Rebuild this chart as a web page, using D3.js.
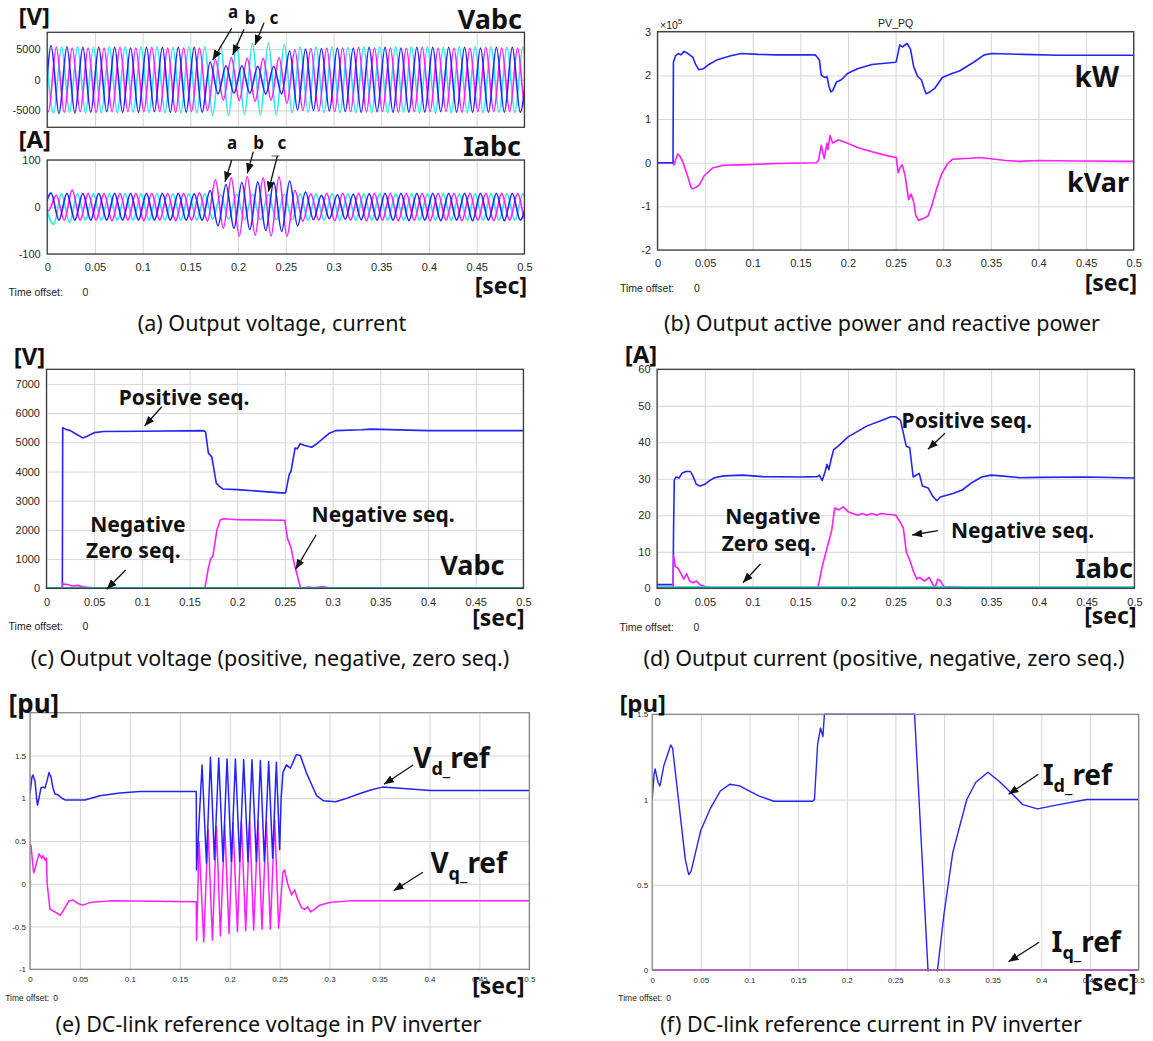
<!DOCTYPE html>
<html>
<head>
<meta charset="utf-8">
<script src="https://cdn.jsdelivr.net/npm/d3@7"></script>
<style>
  body { margin: 0; background: #fff; }
  .big { font-family: "Noto Sans", sans-serif; font-weight: bold; fill: #111; }
  .caption { font-family: "Noto Sans", sans-serif; font-size: 21.5px; fill: #111; }
  .small { font-family: "Liberation Sans", Arial, sans-serif; fill: #222; }
</style>
</head>
<body>
<div id="chart"></div>
<script>
// ---------- data ----------
var xTicks = [0, 0.05, 0.1, 0.15, 0.2, 0.25, 0.3, 0.35, 0.4, 0.45, 0.5];

// (a) three phase waveforms, stored as successive half-cycle extremes (60 Hz)
var halfCycle = 1 / 120;
var phaseStart = [-0.01267, -0.0071, -0.0016];   // time of first stored extreme, phase a, b, c
var vaPeaks = [5300, -5300, 5600, -5500, 5400, -5400, 5300, -5300, 5300, -5200,
  5300, -5300, 5200, -5300, 5300, -5200, 5300, -5300, 5300, -5300,
  5300, -5300, 2900, -2300, 2300, -2200, 2300, -2200, 2200, -2300,
  2200, -2300, 4700, -4900, 5000, -5000, 5100, -5100, 5200, -5200,
  5200, -5300, 5300, -5200, 5300, -5300, 5200, -5300, 5300, -5300,
  5300, -5200, 5300, -5300, 5300, -5300, 5200, -5300, 5300, -5300,
  5300, -5300, 5300];
var vbPeaks = [5200, -5200, 5300, -5300, 5200, -5200, 5200, -5300, 5200, -5200,
  5300, -5200, 5200, -5200, 5300, -5200, 5200, -5300, 5200, -5200,
  5200, -5000, 3300, -3300, 3600, -3400, 3500, -3500, 3500, -3300,
  3600, -3800, 4900, -5000, 5100, -5100, 5200, -5200, 5200, -5200,
  5300, -5200, 5200, -5200, 5200, -5300, 5200, -5200, 5300, -5200,
  5200, -5200, 5200, -5300, 5200, -5200, 5300, -5200, 5200, -5200,
  5200, -5200, 5200];
var vcPeaks = [5400, -5400, 5400, -5300, 5400, -5400, 5300, -5400, 5400, -5400,
  5400, -5300, 5400, -5400, 5400, -5400, 5300, -5400, 5400, -5400,
  5400, -5800, 5500, -5800, 5900, -5700, 5900, -5700, 6000, -5700,
  5800, -5400, 5400, -5300, 5400, -5400, 5400, -5400, 5300, -5400,
  5400, -5400, 5400, -5400, 5400, -5300, 5400, -5400, 5400, -5400,
  5300, -5400, 5400, -5400, 5400, -5400, 5400, -5300, 5400, -5400,
  5400, -5400, 5400];
var iaPeaks = [0, -2, 30, -28, 29, -28, 29, -28, 29, -28,
  29, -28, 29, -28, 29, -28, 29, -28, 29, -28,
  28, -28, 35, -40, 48, -45, 52, -48, 53, -50,
  53, -52, 55, -40, 32, -27, 25, -25, 26, -26,
  27, -27, 28, -28, 29, -28, 29, -29, 29, -28,
  29, -29, 29, -28, 29, -29, 29, -28, 29, -29,
  29, -28, 29];
var ibPeaks = [2, -8, 25, -28, 36, -28, 29, -28, 29, -29,
  29, -28, 29, -29, 29, -28, 29, -29, 29, -28,
  30, -30, 58, -45, 62, -62, 65, -60, 62, -62,
  64, -62, 35, -30, 28, -28, 29, -29, 29, -28,
  29, -29, 29, -28, 29, -29, 29, -28, 29, -29,
  29, -28, 29, -29, 29, -28, 29, -29, 29, -28,
  29, -29, 29];
var icPeaks = [2, -37, 28, -33, 28, -28, 28, -28, 28, -28,
  28, -28, 28, -28, 28, -28, 28, -28, 28, -28,
  28, -26, 26, -26, 27, -27, 27, -27, 27, -27,
  27, -27, 28, -28, 28, -28, 28, -28, 28, -28,
  28, -28, 28, -28, 28, -28, 28, -28, 28, -28,
  28, -28, 28, -28, 28, -28, 28, -28, 28, -28,
  28, -28, 28];

// (b) active / reactive power, x10^5
var pTime = [0, 0.0163, 0.0167, 0.019, 0.022, 0.0245, 0.028, 0.032, 0.037, 0.040, 0.0433, 0.048, 0.054, 0.062,
  0.077, 0.088, 0.106, 0.125, 0.1656, 0.170, 0.172, 0.176, 0.178, 0.180, 0.182, 0.184, 0.188, 0.193, 0.200,
  0.210, 0.225, 0.250, 0.2507, 0.2544, 0.257, 0.262, 0.2656, 0.269, 0.273, 0.277, 0.280, 0.282, 0.286, 0.291,
  0.299, 0.310, 0.317, 0.332, 0.343, 0.351, 0.384, 0.421, 0.5];
var pValue = [0, 0, 2.30, 2.45, 2.50, 2.47, 2.55, 2.50, 2.42, 2.25, 2.13, 2.15, 2.25, 2.35,
  2.45, 2.50, 2.48, 2.47, 2.47, 2.35, 2.00, 1.95, 1.97, 1.75, 1.62, 1.65, 1.85, 1.90, 2.05,
  2.15, 2.25, 2.30, 2.32, 2.70, 2.65, 2.73, 2.60, 2.20, 1.98, 1.90, 1.70, 1.58, 1.62, 1.70,
  1.95, 2.05, 2.10, 2.30, 2.47, 2.50, 2.48, 2.46, 2.46];
var qTime = [0, 0.016, 0.0174, 0.021, 0.0235, 0.027, 0.0315, 0.035, 0.0367, 0.040, 0.044, 0.049, 0.058, 0.069,
  0.088, 0.125, 0.167, 0.169, 0.172, 0.175, 0.178, 0.179, 0.181, 0.184, 0.190, 0.199, 0.210, 0.225, 0.243,
  0.2507, 0.2526, 0.2550, 0.257, 0.260, 0.2637, 0.2663, 0.269, 0.2711, 0.274, 0.280, 0.284, 0.2878, 0.293,
  0.2985, 0.3044, 0.310, 0.328, 0.338, 0.366, 0.380, 0.400, 0.440, 0.5];
var qValue = [0, 0, -0.05, 0.20, 0.15, 0.0, -0.30, -0.55, -0.60, -0.57, -0.50, -0.30, -0.12, -0.06,
  -0.05, -0.02, 0, 0.05, 0.40, 0.10, 0.45, 0.30, 0.62, 0.45, 0.52, 0.45, 0.35, 0.25, 0.15,
  0.12, -0.23, -0.10, -0.05, -0.30, -0.85, -0.72, -0.90, -1.20, -1.32, -1.27, -1.22, -1.00, -0.60,
  -0.25, -0.03, 0.08, 0.10, 0.12, 0.05, 0.03, 0.05, 0.04, 0.03];

// (c) sequence voltages [V]
var posVTime = [0, 0.0166, 0.0170, 0.020, 0.025, 0.030, 0.038, 0.042, 0.050, 0.060, 0.100, 0.165, 0.1668,
  0.1697, 0.1733, 0.178, 0.181, 0.185, 0.200, 0.225, 0.2498, 0.2509, 0.2545, 0.2563, 0.2606, 0.263, 0.266,
  0.270, 0.278, 0.2834, 0.2888, 0.296, 0.3032, 0.330, 0.340, 0.400, 0.5];
var posVValue = [0, 0, 5500, 5450, 5400, 5300, 5150, 5200, 5330, 5370, 5380, 5400, 5350,
  4630, 4500, 3600, 3500, 3400, 3380, 3320, 3260, 3300, 3900, 4000, 4800, 4780, 4950,
  4900, 4830, 4950, 5100, 5300, 5400, 5430, 5450, 5400, 5400];
var negVTime = [0, 0.0166, 0.0170, 0.022, 0.027, 0.033, 0.038, 0.045, 0.050, 0.166, 0.1697, 0.172, 0.1744,
  0.1787, 0.1823, 0.186, 0.200, 0.2498, 0.2527, 0.2563, 0.260, 0.2625, 0.266, 0.268, 0.275, 0.280, 0.290,
  0.295, 0.300, 0.5];
var negVValue = [0, 0, 150, 130, 80, 100, 50, 30, 0, 0, 700, 1000, 1100,
  2000, 2350, 2380, 2350, 2330, 1700, 1400, 800, 500, 50, 0, 40, 20, 60,
  20, 0, 0];
var zeroVTime = [0, 0.5];
var zeroVValue = [15, 15];

// (d) sequence currents [A]
var posITime = [0, 0.0168, 0.0172, 0.018, 0.020, 0.023, 0.026, 0.030, 0.035, 0.038, 0.041, 0.045, 0.050,
  0.055, 0.060, 0.070, 0.090, 0.110, 0.150, 0.168, 0.170, 0.173, 0.176, 0.178, 0.180, 0.182, 0.185, 0.190,
  0.200, 0.210, 0.220, 0.235, 0.245, 0.2498, 0.255, 0.2609, 0.2646, 0.2683, 0.2746, 0.278, 0.2838, 0.2893,
  0.293, 0.2967, 0.310, 0.320, 0.330, 0.340, 0.350, 0.360, 0.380, 0.400, 0.450, 0.5];
var posIValue = [1, 1, 15, 29.7, 30.5, 30.2, 31.5, 32, 32, 30.5, 28.5, 28, 28.5,
  29.5, 30.3, 30.8, 31, 30.6, 30.5, 30.6, 31, 29.5, 32, 34, 32.5, 35, 38, 39,
  41.5, 43, 44.5, 46, 47, 47, 46, 39, 38.5, 30.5, 31.5, 28, 27.5, 25,
  24, 25, 26, 27, 29, 30.5, 31, 30.8, 30.3, 30.4, 30.5, 30.2];
var negITime = [0, 0.0168, 0.0172, 0.019, 0.022, 0.025, 0.028, 0.031, 0.034, 0.038, 0.041, 0.045, 0.050,
  0.060, 0.168, 0.170, 0.173, 0.177, 0.181, 0.183, 0.186, 0.190, 0.195, 0.200, 0.205, 0.210, 0.215, 0.220,
  0.225, 0.230, 0.235, 0.240, 0.245, 0.250, 0.255, 0.258, 0.261, 0.265, 0.268, 0.272, 0.275, 0.280, 0.285,
  0.288, 0.291, 0.294, 0.297, 0.300, 0.320, 0.350, 0.5];
var negIValue = [0, 0, 9, 6, 5.5, 4, 2.5, 4, 2, 1.5, 2, 1, 0.5,
  0, 0, 2, 6, 10, 14, 16, 22, 21.5, 22.3, 21, 20.5, 20, 20.5, 20,
  20.5, 20, 20.5, 20.3, 20.2, 20, 18, 16.5, 10, 7.5, 5, 2.5, 3, 2, 3,
  1.5, 0, 2.5, 2, 0.5, 0.2, 0, 0];
var zeroITime = [0, 0.5];
var zeroIValue = [0.3, 0.3];

// (e) reference voltages [pu]
var vdTime = [0, 0.002, 0.003, 0.005, 0.0069, 0.0075, 0.009, 0.011, 0.013, 0.015, 0.017, 0.019, 0.021,
  0.023, 0.025, 0.028, 0.032, 0.035, 0.045, 0.055, 0.070, 0.090, 0.110, 0.1665,
  0.1668, 0.1723, 0.1767, 0.1807, 0.1847, 0.189, 0.1933, 0.1973, 0.2017, 0.2057, 0.210, 0.214, 0.2183,
  0.2223, 0.2267, 0.2307, 0.2347, 0.239, 0.243, 0.2467, 0.2500, 0.2515, 0.2533, 0.2567, 0.2607, 0.2667,
  0.2707, 0.2767, 0.282, 0.287, 0.294, 0.306, 0.315, 0.329, 0.342, 0.353, 0.367, 0.401, 0.5];
var vdValue = [1.05, 1.25, 1.27, 1.20, 0.97, 0.92, 1.00, 1.12, 1.13, 1.12, 1.20, 1.30, 1.25,
  1.12, 1.05, 1.04, 1.00, 0.98, 0.98, 0.98, 1.03, 1.06, 1.08, 1.08,
  0.16, 1.39, 0.24, 1.48, 0.28, 1.47, 0.26, 1.46, 0.26, 1.46, 0.26, 1.45, 0.26,
  1.45, 0.26, 1.44, 0.26, 1.43, 0.30, 1.42, 0.40, 1.00, 1.30, 1.39, 1.35, 1.51,
  1.50, 1.30, 1.16, 1.03, 0.97, 0.96, 0.99, 1.05, 1.10, 1.13, 1.12, 1.09, 1.09];
var vqTime = [0, 0.001, 0.0034, 0.004, 0.009, 0.012, 0.013, 0.0155, 0.0165, 0.0172, 0.020, 0.025, 0.0303,
  0.034, 0.039, 0.043, 0.048, 0.053, 0.060, 0.080, 0.1665,
  0.1668, 0.1693, 0.174, 0.1783, 0.1827, 0.1867, 0.1907, 0.195, 0.1993, 0.2033, 0.2077, 0.2117, 0.216,
  0.220, 0.224, 0.2283, 0.2323, 0.2367, 0.2407, 0.245, 0.249, 0.2533, 0.255, 0.258, 0.262, 0.265, 0.268,
  0.272, 0.275, 0.278, 0.281, 0.285, 0.290, 0.300, 0.320, 0.5];
var vqValue = [0.46, 0.45, 0.15, 0.13, 0.35, 0.30, 0.33, 0.27, 0.30, 0.0, -0.30, -0.33, -0.37,
  -0.30, -0.20, -0.19, -0.23, -0.25, -0.22, -0.20, -0.21,
  -0.66, 0.49, -0.68, 0.64, -0.66, 0.67, -0.61, 0.69, -0.58, 0.72, -0.56, 0.73, -0.55,
  0.73, -0.54, 0.73, -0.53, 0.73, -0.53, 0.75, -0.52, 0.14, 0.16, 0.0, -0.13, -0.07, -0.18,
  -0.28, -0.30, -0.27, -0.33, -0.30, -0.25, -0.22, -0.20, -0.20];

// (f) reference currents [pu]
var idTime = [0, 0.002, 0.003, 0.006, 0.008, 0.012, 0.015, 0.019, 0.021, 0.025, 0.030, 0.034, 0.0375,
  0.040, 0.045, 0.050, 0.060, 0.070, 0.080, 0.090, 0.100, 0.110, 0.125, 0.165, 0.1668, 0.170, 0.173,
  0.1755, 0.177, 0.2697, 0.2835, 0.2875, 0.2933, 0.300, 0.309, 0.3234, 0.3325, 0.345, 0.356, 0.367,
  0.381, 0.396, 0.418, 0.4467, 0.5];
var idValue = [1.0, 1.15, 1.18, 1.10, 1.08, 1.20, 1.25, 1.32, 1.30, 1.10, 0.85, 0.65, 0.56,
  0.58, 0.70, 0.82, 0.95, 1.05, 1.09, 1.08, 1.05, 1.02, 0.99, 0.99, 1.0, 1.32, 1.42,
  1.37, 1.5, 1.5, 0, -0.3, 0, 0.33, 0.69, 1.0, 1.1, 1.16, 1.11, 1.05,
  0.97, 0.945, 0.97, 1.0, 1.0];
var iqTime = [0, 0.5];
var iqValue = [0, 0];

// ---------- drawing ----------
var blue = '#2323ff', magenta = '#ff1cff', cyanBright = '#22e6f0', cyanDark = '#1bc4c4';

var svg = d3.select('#chart').append('svg')
  .attr('width', 1153)
  .attr('height', 1041);

var defs = svg.append('defs');
defs.append('marker')
  .attr('id', 'arrowhead')
  .attr('viewBox', '0 0 10 8')
  .attr('refX', 10).attr('refY', 4)
  .attr('markerWidth', 10).attr('markerHeight', 8)
  .attr('markerUnits', 'userSpaceOnUse')
  .attr('orient', 'auto')
  .append('path').attr('d', 'M0,0L10,4L0,8Z').attr('fill', '#111');

function makePanel(id, box, yDomain, yTicks, opts) {
  var x = d3.scaleLinear().domain([0, 0.5]).range([box.x0, box.x1]);
  var y = d3.scaleLinear().domain(yDomain).range([box.y1, box.y0]);
  var w = box.x1 - box.x0, h = box.y1 - box.y0;
  var fs = opts.small ? 8 : 11;
  var g = svg.append('g').attr('class', 'panel-' + id);

  var xa = g.append('g')
    .attr('transform', 'translate(0,' + box.y1 + ')')
    .call(d3.axisBottom(x).tickValues(xTicks).tickSize(-h).tickPadding(opts.xPad)
      .tickFormat(opts.noXLabels ? function() { return ''; } : String));
  var ya = g.append('g')
    .attr('transform', 'translate(' + box.x0 + ',0)')
    .call(d3.axisLeft(y).tickValues(yTicks).tickSize(-w).tickPadding(opts.yPad).tickFormat(String));

  [xa, ya].forEach(function(a) {
    a.select('.domain').remove();
    a.selectAll('line').attr('stroke', '#d6d6d6').attr('stroke-width', 1);
    a.selectAll('text').attr('font-family', '"Liberation Sans", Arial, sans-serif')
      .attr('font-size', fs).attr('fill', '#2a2a2a');
  });

  defs.append('clipPath').attr('id', 'clip-' + id)
    .append('rect').attr('x', box.x0).attr('y', box.y0 - 1.5).attr('width', w).attr('height', h + 3);

  var lines = g.append('g').attr('clip-path', 'url(#clip-' + id + ')');

  g.append('rect')
    .attr('x', box.x0).attr('y', box.y0).attr('width', w).attr('height', h)
    .attr('fill', 'none').attr('stroke', opts.border || '#3c3c3c').attr('stroke-width', 1.3);

  return { x: x, y: y, lines: lines, g: g };
}

function drawSeries(p, times, values, color, width, curve) {
  var line = d3.line()
    .x(function(d, i) { return p.x(times[i]); })
    .y(function(d) { return p.y(d); })
    .curve(curve || d3.curveLinear);
  p.lines.append('path')
    .datum(values)
    .attr('fill', 'none')
    .attr('stroke', color)
    .attr('stroke-width', width)
    .attr('stroke-linejoin', 'round')
    .attr('d', line);
}

function peakTimes(start, n) {
  return d3.range(n).map(function(k) { return start + k * halfCycle; });
}

function bigText(x, y, txt, size, anchor) {
  return svg.append('text').attr('class', 'big')
    .attr('x', x).attr('y', y)
    .attr('font-size', size)
    .attr('text-anchor', anchor || 'start')
    .text(txt);
}

function arrow(x1, y1, x2, y2) {
  svg.append('line')
    .attr('x1', x1).attr('y1', y1).attr('x2', x2).attr('y2', y2)
    .attr('stroke', '#111').attr('stroke-width', 1.3)
    .attr('marker-end', 'url(#arrowhead)');
}

function timeOffset(x, y, size, gap) {
  svg.append('text').attr('class', 'small').attr('x', x).attr('y', y).attr('font-size', size).text('Time offset:');
  svg.append('text').attr('class', 'small').attr('x', x + gap).attr('y', y).attr('font-size', size).text('0');
}

function caption(x, y, txt) {
  svg.append('text').attr('class', 'caption').attr('x', x).attr('y', y)
    .attr('text-anchor', 'middle').text(txt);
}

// ---- (a) ----
var a1 = makePanel('a1', { x0: 47.2, x1: 524.4, y0: 32.3, y1: 127.3 }, [-7750, 7750], [-5000, 0, 5000],
  { xPad: 9, yPad: 6.5, noXLabels: true });
var a2 = makePanel('a2', { x0: 47.2, x1: 524.4, y0: 160, y1: 254 }, [-100, 100], [-100, 0, 100],
  { xPad: 9, yPad: 6.5 });

var n = vaPeaks.length;
drawSeries(a1, peakTimes(phaseStart[2], n), vcPeaks, cyanBright, 1.6, d3.curveMonotoneX);
drawSeries(a1, peakTimes(phaseStart[1], n), vbPeaks, magenta, 1.6, d3.curveMonotoneX);
drawSeries(a1, peakTimes(phaseStart[0], n), vaPeaks, blue, 1.6, d3.curveMonotoneX);
drawSeries(a2, peakTimes(phaseStart[2], n), icPeaks, cyanBright, 1.6, d3.curveMonotoneX);
drawSeries(a2, peakTimes(phaseStart[1], n), ibPeaks, magenta, 1.6, d3.curveMonotoneX);
drawSeries(a2, peakTimes(phaseStart[0], n), iaPeaks, blue, 1.6, d3.curveMonotoneX);

bigText(18.5, 24.5, '[V]', 24);
bigText(522, 28.5, 'Vabc', 27, 'end');
bigText(18.5, 148, '[A]', 24);
bigText(521, 156, 'Iabc', 27, 'end');
bigText(527, 294, '[sec]', 23, 'end');
bigText(233, 18.3, 'a', 17, 'middle');
bigText(250, 24, 'b', 17, 'middle');
bigText(274, 24, 'c', 17, 'middle');
arrow(231.7, 28.3, 212.7, 60);
arrow(244, 29.3, 232.7, 55);
arrow(264, 22.7, 255, 45);
bigText(232, 149.3, 'a', 17, 'middle');
bigText(258.5, 149.3, 'b', 17, 'middle');
bigText(282, 149.3, 'c', 17, 'middle');
arrow(231.7, 160, 225, 181.7);
arrow(253.3, 151.7, 247.3, 173.3);
svg.append('line').attr('x1', 271.5).attr('y1', 156).attr('x2', 279.5).attr('y2', 156)
  .attr('stroke', '#555').attr('stroke-width', 1);
arrow(277.3, 156, 268.3, 191.7);
timeOffset(8.6, 295.5, 10.5, 74);
caption(272, 331, '(a) Output voltage, current');

// ---- (b) ----
var b = makePanel('b', { x0: 657.5, x1: 1133.7, y0: 31.7, y1: 250 }, [-2, 3], [-2, -1, 0, 1, 2, 3],
  { xPad: 9, yPad: 6.5 });
drawSeries(b, qTime, qValue, magenta, 1.6);
drawSeries(b, pTime, pValue, blue, 1.6);
svg.append('text').attr('class', 'small').attr('x', 895.6).attr('y', 26.5)
  .attr('font-size', 10.5).attr('text-anchor', 'middle').attr('fill', '#333').text('PV_PQ');
var expo = svg.append('text').attr('class', 'small').attr('x', 660).attr('y', 28.5)
  .attr('font-size', 10.5).attr('fill', '#444');
expo.append('tspan').text('\u00d710');
expo.append('tspan').attr('font-size', 8).attr('dy', -5).text('5');
bigText(1119, 87, 'kW', 28, 'end');
bigText(1129, 191.7, 'kVar', 27, 'end');
bigText(1137, 291, '[sec]', 23, 'end');
timeOffset(620, 292, 10.5, 74);
caption(882, 331, '(b) Output active power and reactive power');

// ---- (c) ----
var c = makePanel('c', { x0: 46.5, x1: 523.4, y0: 369.3, y1: 588.3 }, [0, 7500], d3.range(0, 7001, 1000),
  { xPad: 9.5, yPad: 6.5 });
drawSeries(c, posVTime, posVValue, blue, 1.6);
drawSeries(c, negVTime, negVValue, magenta, 1.6);
drawSeries(c, zeroVTime, zeroVValue, cyanDark, 1.8);
bigText(13.8, 364.5, '[V]', 24);
bigText(118.8, 405, 'Positive seq.', 21);
arrow(161.8, 406.7, 144.6, 426);
bigText(90.2, 531.7, 'Negative', 21);
bigText(86.1, 558, 'Zero seq.', 21);
arrow(125.7, 570, 106.7, 589.3);
bigText(311.6, 521.7, 'Negative seq.', 21);
arrow(316.1, 535, 295.5, 569.3);
bigText(504.5, 575, 'Vabc', 27, 'end');
bigText(524.5, 626, '[sec]', 23, 'end');
timeOffset(8.6, 630, 10.5, 74);
caption(270, 666, '(c) Output voltage (positive, negative, zero seq.)');

// ---- (d) ----
var dP = makePanel('d', { x0: 657.1, x1: 1134.4, y0: 369.3, y1: 588.3 }, [0, 60], d3.range(0, 61, 10),
  { xPad: 9.5, yPad: 6.5 });
drawSeries(dP, posITime, posIValue, blue, 1.6);
drawSeries(dP, negITime, negIValue, magenta, 1.6);
drawSeries(dP, zeroITime, zeroIValue, cyanDark, 1.8);
bigText(624.7, 363, '[A]', 24);
bigText(901.6, 428, 'Positive seq.', 21);
arrow(945, 433.3, 928, 449.3);
bigText(725.2, 524, 'Negative', 21);
bigText(721.7, 550.7, 'Zero seq.', 21);
arrow(760.5, 564, 742.9, 582.7);
bigText(951, 538, 'Negative seq.', 21);
arrow(937.9, 530.7, 912.2, 535);
bigText(1133, 578.3, 'Iabc', 27, 'end');
bigText(1136.5, 624, '[sec]', 23, 'end');
timeOffset(619.4, 631, 10.5, 74);
caption(884, 666, '(d) Output current (positive, negative, zero seq.)');

// ---- (e) ----
var e = makePanel('e', { x0: 30, x1: 529.3, y0: 712.7, y1: 969.3 }, [-1, 2], [-1, -0.5, 0, 0.5, 1, 1.5],
  { xPad: 7, yPad: 4, small: true, border: '#8a8a8a' });
drawSeries(e, vqTime, vqValue, magenta, 1.5);
drawSeries(e, vdTime, vdValue, blue, 1.5);
bigText(8.6, 713.3, '[pu]', 26);
var vd = bigText(413.2, 768.3, 'V', 28);
vd.append('tspan').attr('font-size', 18).attr('dy', 7).text('d_');
vd.append('tspan').attr('font-size', 28).attr('dy', -7).text('ref');
arrow(413.2, 765, 384, 784.3);
var vq = bigText(430.4, 873.3, 'V', 28);
vq.append('tspan').attr('font-size', 18).attr('dy', 7).text('q_');
vq.append('tspan').attr('font-size', 28).attr('dy', -7).text('ref');
arrow(422.9, 872.3, 393.6, 890.7);
bigText(524.5, 994, '[sec]', 23, 'end');
timeOffset(5.2, 1001, 8.5, 48);
caption(268.5, 1032, '(e) DC-link reference voltage in PV inverter');

// ---- (f) ----
var f = makePanel('f', { x0: 652.2, x1: 1138.6, y0: 714.3, y1: 970 }, [0, 1.5], [0, 0.5, 1, 1.5],
  { xPad: 7, yPad: 4, small: true, border: '#8a8a8a' });
drawSeries(f, iqTime, iqValue, magenta, 1.8);
drawSeries(f, idTime, idValue, blue, 1.4);
bigText(619.4, 712, '[pu]', 24);
var id = bigText(1042.7, 785, 'I', 28);
id.append('tspan').attr('font-size', 18).attr('dy', 7).text('d_');
id.append('tspan').attr('font-size', 28).attr('dy', -7).text('ref');
arrow(1038.4, 774.3, 1008.5, 794.3);
var iq = bigText(1051.5, 951.7, 'I', 28);
iq.append('tspan').attr('font-size', 18).attr('dy', 7).text('q_');
iq.append('tspan').attr('font-size', 28).attr('dy', -7).text('ref');
arrow(1039.2, 942.3, 1008.5, 961.7);
bigText(1136.5, 991, '[sec]', 23, 'end');
timeOffset(618.3, 1001, 8.5, 48);
caption(871, 1032, '(f) DC-link reference current in PV inverter');
</script>
</body>
</html>
